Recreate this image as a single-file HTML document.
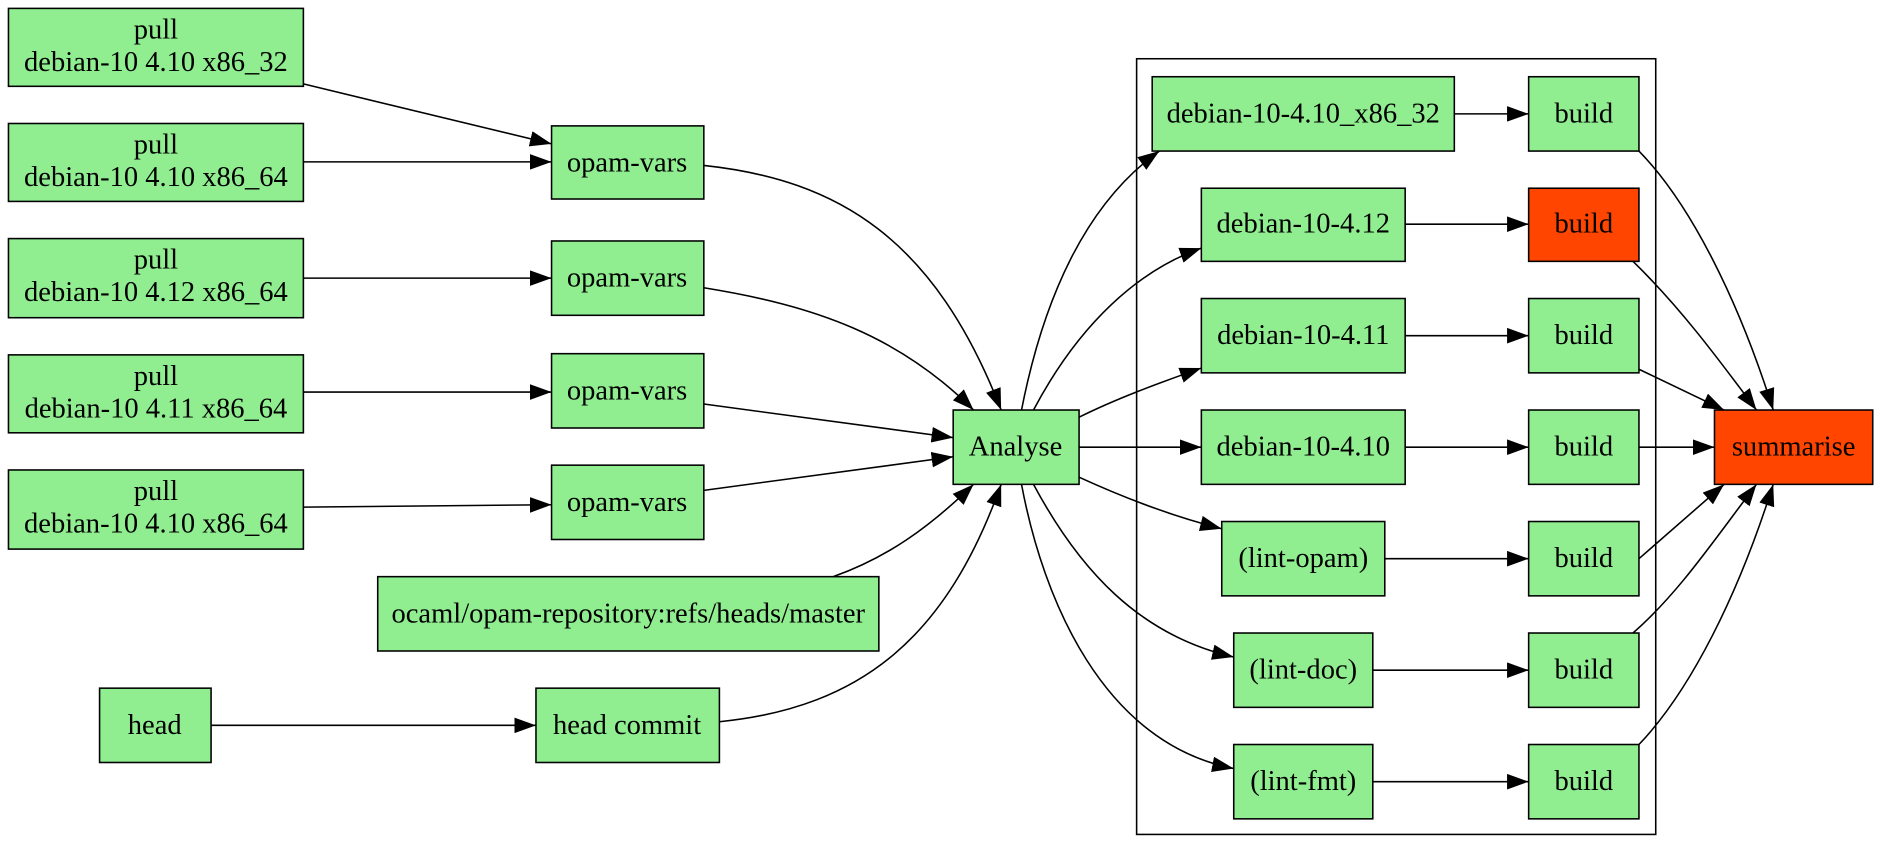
<!DOCTYPE html>
<html><head><style>html,body{margin:0;padding:0;background:#fff}svg{display:block}text{font-family:"Liberation Serif",serif;font-size:23.8px;text-anchor:middle;dominant-baseline:central;fill:#000}</style></head><body>
<svg width="1880" height="865" viewBox="0 0 1568 721.5" xmlns="http://www.w3.org/2000/svg">
<defs><marker id="a" markerUnits="userSpaceOnUse" markerWidth="20" markerHeight="14" refX="18" refY="6.5" orient="auto"><path d="M0,0 L18,6.5 L0,13 Z" fill="#000"/></marker></defs>
<g fill="#90ee90" stroke="#000" stroke-width="1.3">
<rect x="7" y="7" width="246" height="65"/><rect x="7" y="103" width="246" height="65"/><rect x="7" y="199" width="246" height="66"/><rect x="7" y="296" width="246" height="65"/><rect x="7" y="392" width="246" height="66"/>
<rect x="460" y="105" width="127" height="61"/><rect x="460" y="201" width="127" height="62"/><rect x="460" y="295" width="127" height="62"/><rect x="460" y="388" width="127" height="62"/>
<rect x="315" y="481" width="418" height="62"/><rect x="83" y="574" width="93" height="62"/><rect x="447" y="574" width="153" height="62"/><rect x="795" y="342" width="105" height="62"/>
<rect x="948" y="49" width="433" height="647" fill="none"/>
<rect x="961" y="64" width="252" height="62"/><rect x="1002" y="157" width="170" height="61"/><rect x="1002" y="249" width="170" height="62"/><rect x="1002" y="342" width="170" height="62"/><rect x="1019" y="435" width="136" height="62"/><rect x="1029" y="528" width="116" height="62"/><rect x="1029" y="621" width="116" height="62"/>
<rect x="1275" y="64" width="92" height="62"/><rect x="1275" y="157" width="92" height="61" fill="#ff4500"/><rect x="1275" y="249" width="92" height="62"/><rect x="1275" y="342" width="92" height="62"/><rect x="1275" y="435" width="92" height="62"/><rect x="1275" y="528" width="92" height="62"/><rect x="1275" y="621" width="92" height="62"/>
<rect x="1430" y="342" width="132" height="62" fill="#ff4500"/>
</g>
<g fill="none" stroke="#000" stroke-width="1.3" marker-end="url(#a)">
<path d="M253,70 L460,120"/><path d="M253,135 L460,135"/><path d="M253,232 L460,232"/><path d="M253,327 L460,327"/><path d="M253,423 L460,421"/>
<path d="M587,138 C700,150 780,200 835,342"/><path d="M587,240 C680,255 750,280 812,342"/><path d="M587,337 L795,365"/><path d="M587,409 L795,381"/>
<path d="M695,481 C740,465 775,440 812,404"/><path d="M600,602 C720,590 790,530 835,404"/><path d="M176,605 L447,605"/>
<path d="M852,342 C870,250 905,170 967,126"/><path d="M862,342 C900,270 950,225 1002,207"/><path d="M900,348 C930,333 965,320 1002,307"/><path d="M900,373 L1002,373"/><path d="M900,398 C935,414 975,430 1019,441"/><path d="M862,404 C900,475 950,530 1029,548"/><path d="M852,404 C870,500 920,620 1029,641"/>
<path d="M1213,95 L1275,95"/><path d="M1172,187 L1275,187"/><path d="M1172,280 L1275,280"/><path d="M1172,373 L1275,373"/><path d="M1155,466 L1275,466"/><path d="M1145,559 L1275,559"/><path d="M1145,652 L1275,652"/>
<path d="M1367,126 C1410,170 1450,250 1479,342"/><path d="M1362,218 C1400,255 1430,295 1465,342"/><path d="M1367,308 L1438,342"/><path d="M1367,373 L1430,373"/><path d="M1367,466 L1438,404"/><path d="M1362,528 C1400,495 1430,450 1465,404"/><path d="M1367,621 C1410,576 1450,496 1479,404"/>
</g>
<text x="130" y="25">pull</text><text x="130" y="52">debian-10 4.10 x86_32</text>
<text x="130" y="121">pull</text><text x="130" y="148">debian-10 4.10 x86_64</text>
<text x="130" y="217">pull</text><text x="130" y="244">debian-10 4.12 x86_64</text>
<text x="130" y="314">pull</text><text x="130" y="341">debian-10 4.11 x86_64</text>
<text x="130" y="410">pull</text><text x="130" y="437">debian-10 4.10 x86_64</text>
<text x="523" y="136">opam-vars</text><text x="523" y="232">opam-vars</text><text x="523" y="326">opam-vars</text><text x="523" y="419">opam-vars</text>
<text x="524" y="512">ocaml/opam-repository:refs/heads/master</text><text x="129" y="605">head</text><text x="523" y="605">head commit</text><text x="847" y="373">Analyse</text>
<text x="1087" y="95">debian-10-4.10_x86_32</text><text x="1087" y="187">debian-10-4.12</text><text x="1087" y="280">debian-10-4.11</text><text x="1087" y="373">debian-10-4.10</text><text x="1087" y="466">(lint-opam)</text><text x="1087" y="559">(lint-doc)</text><text x="1087" y="652">(lint-fmt)</text>
<text x="1321" y="95">build</text><text x="1321" y="187">build</text><text x="1321" y="280">build</text><text x="1321" y="373">build</text><text x="1321" y="466">build</text><text x="1321" y="559">build</text><text x="1321" y="652">build</text>
<text x="1496" y="373">summarise</text>
</svg></body></html>
